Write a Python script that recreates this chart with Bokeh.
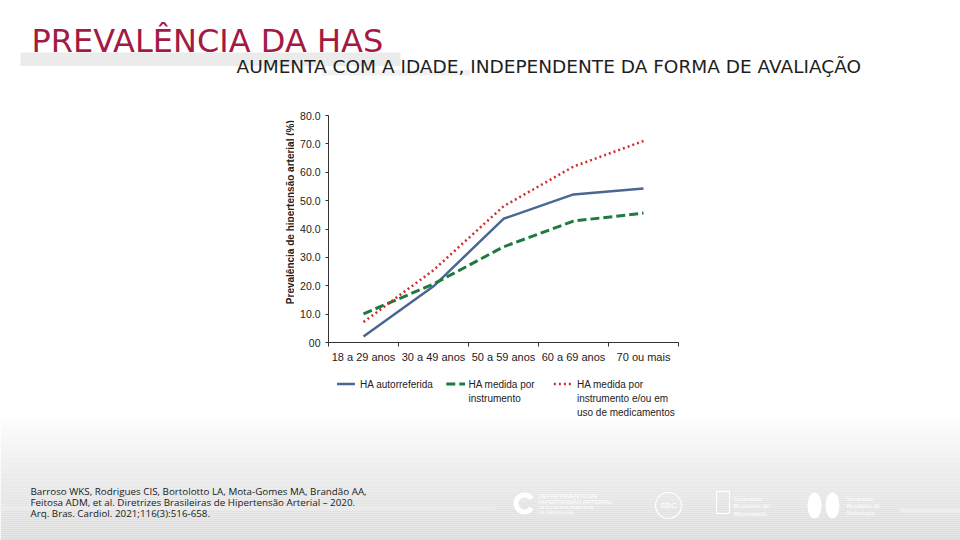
import numpy as np
from bokeh.plotting import figure
from bokeh.models import Range1d, FixedTicker
from bokeh.layouts import column, row
from bokeh.core.properties import value
from bokeh.embed import file_html
from bokeh.resources import INLINE

# ---------------- data ----------------
age_groups = ["18 a 29 anos", "30 a 49 anos", "50 a 59 anos", "60 a 69 anos", "70 ou mais"]
ha_autorreferida = [2.1, 19.8, 43.6, 52.2, 54.3]
ha_instrumento = [10.1, 20.6, 33.7, 42.8, 45.6]
ha_instrumento_medicamentos = [7.2, 25.5, 48.0, 62.0, 71.0]
y_ticks = [0, 10, 20, 30, 40, 50, 60, 70, 80]
y_tick_labels = ["00", "10.0", "20.0", "30.0", "40.0", "50.0", "60.0", "70.0", "80.0"]

title_text = "PREVALÊNCIA DA HAS"
subtitle_text = "AUMENTA COM A IDADE, INDEPENDENTE DA FORMA DE AVALIAÇÃO"
y_label_text = "Prevalência de hipertensão arterial (%)"
citation_lines = [
    "Barroso WKS, Rodrigues CIS, Bortolotto LA, Mota-Gomes MA, Brandão AA,",
    "Feitosa ADM, et al. Diretrizes Brasileiras de Hipertensão Arterial – 2020.",
    "Arq. Bras. Cardiol. 2021;116(3):516-658.",
]

BLUE = "#4a6791"
GREEN = "#1f7a3f"
RED = "#d22b2b"
CHART_FONT = value("Liberation Sans")


def deco(w, h, x0, x1, y0, y1):
    f = figure(width=w, height=h, x_range=Range1d(x0, x1), y_range=Range1d(y1, y0),
               output_backend="svg", toolbar_location=None,
               x_axis_location=None, y_axis_location=None,
               min_border=0, outline_line_color=None,
               background_fill_color="white", border_fill_color="white")
    f.xgrid.visible = False
    f.ygrid.visible = False
    return f


# ---------------- top (title) ----------------
top = deco(960, 100, 0, 960, 0, 100)
top.quad(left=[20], right=[400], top=[52], bottom=[65.5], fill_color="#ebebeb", line_color=None)
top.quad(left=[321], right=[470], top=[69.5], bottom=[75], fill_color="#f1f1f1", line_color=None)
top.text(x=[31], y=[40], text=[title_text], text_font=value("DejaVu Sans"),
         text_font_size="32px", text_color="#a31a43", text_baseline="middle", text_align="left")
top.text(x=[236], y=[65.6], text=[subtitle_text], text_font=value("DejaVu Sans"),
         text_font_size="18.5px", text_color="#1e1e1e", text_baseline="middle", text_align="left")

# ---------------- left (y-axis title) ----------------
left = deco(294, 318, 0, 294, 100, 418)
left.text(x=[289.5], y=[211.7], text=[y_label_text], angle=np.pi / 2, text_font=CHART_FONT,
          text_font_style="bold", text_font_size="10px", text_color="#222222",
          text_align="center", text_baseline="middle")

# ---------------- chart ----------------
centers = [i + 0.5 for i in range(len(age_groups))]
bounds = [float(i) for i in range(len(age_groups) + 1)]

chart = figure(width=410, height=265, x_range=Range1d(0, len(age_groups)), y_range=Range1d(0, 80),
               output_backend="svg", toolbar_location=None,
               min_border_left=34, min_border_right=26, min_border_top=15, min_border_bottom=22,
               outline_line_color=None, background_fill_color="white", border_fill_color="white")
chart.xgrid.visible = False
chart.ygrid.visible = False

chart.line(centers, ha_autorreferida, line_color=BLUE, line_width=2.5)
chart.line(centers, ha_instrumento, line_color=GREEN, line_width=3, line_dash="9 4")
chart.line(centers, ha_instrumento_medicamentos, line_color=RED, line_width=2.5, line_dash="2 3")

xa = chart.xaxis[0]
xa.ticker = FixedTicker(ticks=centers, minor_ticks=bounds)
xa.major_label_overrides = {c: lab for c, lab in zip(centers, age_groups)}
xa.major_tick_line_color = None
xa.major_tick_out = 0
xa.major_tick_in = 0
xa.minor_tick_line_color = "#333333"
xa.minor_tick_out = 4
xa.minor_tick_in = 0
xa.axis_line_color = "#333333"
xa.major_label_standoff = 4
xa.major_label_text_font = "Liberation Sans"
xa.major_label_text_font_size = "11px"
xa.major_label_text_color = "#222222"

ya = chart.yaxis[0]
ya.ticker = FixedTicker(ticks=y_ticks, minor_ticks=[])
ya.major_label_overrides = {t: lab for t, lab in zip(y_ticks, y_tick_labels)}
ya.major_tick_line_color = "#333333"
ya.major_tick_out = 3
ya.major_tick_in = 0
ya.minor_tick_line_color = None
ya.axis_line_color = "#333333"
ya.major_label_standoff = 5
ya.major_label_text_font = "Liberation Sans"
ya.major_label_text_font_size = "10.5px"
ya.major_label_text_color = "#222222"

# ---------------- legend ----------------
leg = deco(410, 53, 294, 704, 365, 418)
leg.line([304, 325], [383.5, 383.5], line_color=BLUE, line_width=2.5)
leg.line([432, 454], [383.5, 383.5], line_color=GREEN, line_width=3, line_dash="9 4")
leg.line([558, 580], [383.5, 383.5], line_color=RED, line_width=2.5, line_dash="2 3")
leg_x = [331, 458, 458, 585, 585, 585]
leg_y = [383.5, 383.5, 397.8, 383.5, 397.8, 412]
leg_t = ["HA autorreferida", "HA medida por", "instrumento",
         "HA medida por", "instrumento e/ou em", "uso de medicamentos"]
leg.text(x=leg_x, y=leg_y, text=leg_t, text_font=CHART_FONT, text_font_size="10px",
         text_color="#222222", text_align="left", text_baseline="middle")

# ---------------- right spacer ----------------
right = deco(256, 318, 704, 960, 100, 418)

# ---------------- bottom (footer) ----------------
bottom = deco(960, 122, 0, 960, 418, 540)
ys = np.arange(418, 540, 2.0)
levels = np.interp(ys + 1, [415, 440, 470, 500, 540], [255, 246, 236, 229, 220]).astype(int)
cols = ["#%02x%02x%02x" % (g, g, g) for g in levels]
bottom.quad(left=0, right=960, top=ys, bottom=ys + 2.05, fill_color=cols, line_color=None)
bottom.quad(left=[0], right=[495], top=[505], bottom=[510], fill_color="#ebebeb", line_color=None)
bottom.quad(left=[900], right=[960], top=[508], bottom=[512], fill_color="#efefef", line_color=None)
bottom.text(x=[30, 30, 30], y=[490.7, 502.3, 513.3], text=citation_lines, text_font=value("Open Sans"),
            text_font_size="9.8px", text_color="#1a1a1a", text_align="left", text_baseline="middle")

# logos (white, faint)
bottom.annular_wedge(x=[524], y=[503], inner_radius=6, outer_radius=11, start_angle=0.6, end_angle=5.7,
                     fill_color="white", line_color=None)
bottom.text(x=[538, 538, 538, 538], y=[495, 501, 507, 512],
            text=["DEPARTAMENTO DE", "HIPERTENSÃO ARTERIAL", "DA SOCIEDADE BRASILEIRA", "DE CARDIOLOGIA"],
            text_font=value("Liberation Sans"), text_font_size=["6px", "6px", "4px", "4px"],
            text_color="white", text_align="left", text_baseline="middle")
bottom.circle(x=[668], y=[505], radius=13, fill_color=None, line_color="white", line_width=1.2)
bottom.text(x=[668], y=[505], text=["SBC"], text_font=value("Liberation Sans"), text_font_size="8px",
            text_color="white", text_align="center", text_baseline="middle")
bottom.quad(left=[716], right=[729], top=[491], bottom=[513], fill_color=None, line_color="white")
bottom.text(x=[733, 733, 733], y=[498, 505, 513], text=["Sociedade", "Brasileira de", "Hipertensão"],
            text_font=value("Liberation Serif"), text_font_size="7px", text_color="white",
            text_align="left", text_baseline="middle")
bottom.ellipse(x=[814, 832], y=[505, 505], width=14, height=26, fill_color="white", line_color=None)
bottom.text(x=[846, 846, 846], y=[498, 505, 512], text=["Sociedade", "Brasileira de", "Nefrologia"],
            text_font=value("Liberation Serif"), text_font_size="6.5px", text_color="white",
            text_align="left", text_baseline="middle")

layout = column(top, row(left, column(chart, leg), right), bottom)

open("out.html", "w").write(file_html(layout, INLINE))
